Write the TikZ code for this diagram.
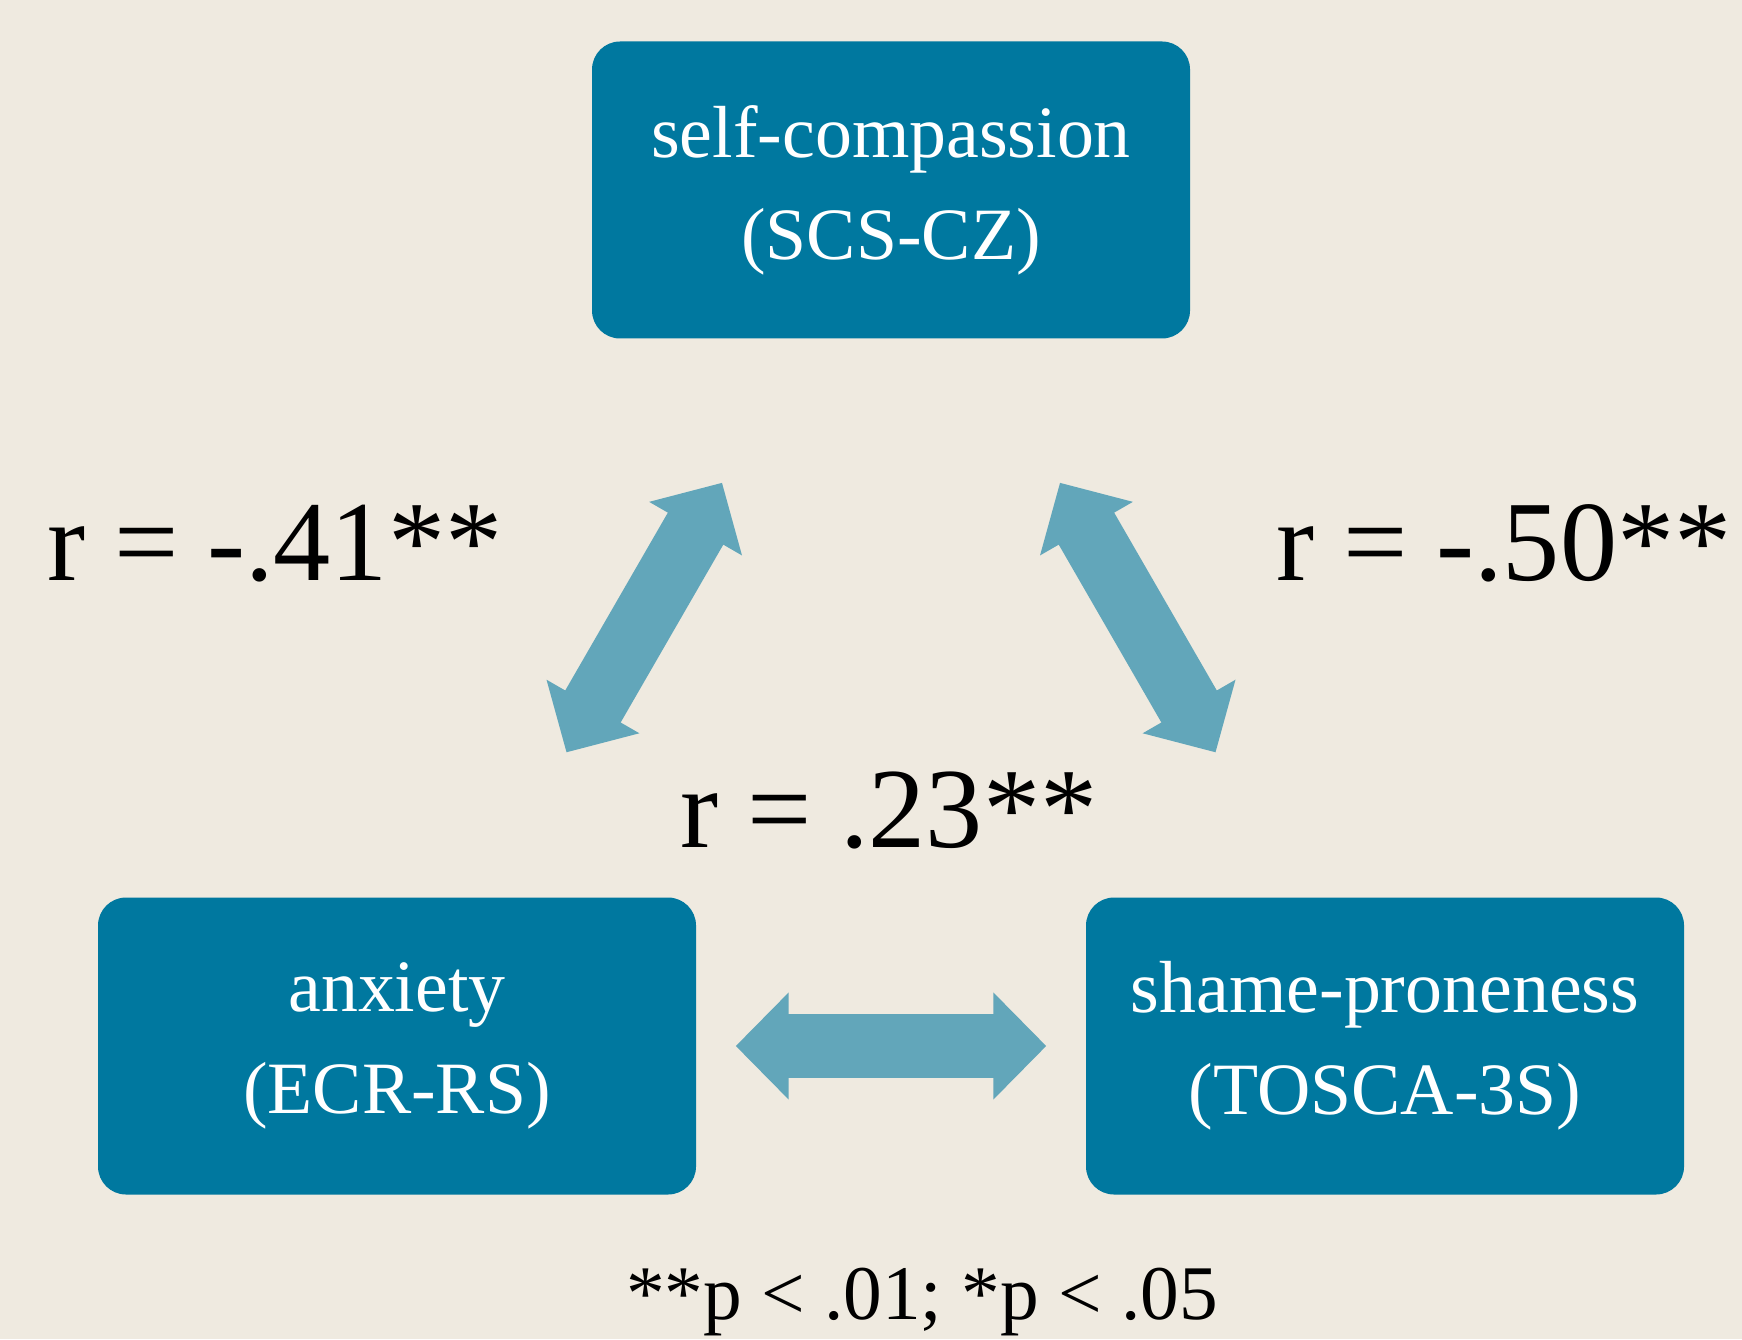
\documentclass[tikz,border=0pt]{standalone}
\usepackage{fontspec}
\setmainfont{Liberation Serif}
\usepackage{xcolor}
\usepackage{tikz}
\usetikzlibrary{arrows.meta,positioning,calc}

\definecolor{paper}{HTML}{EFEAE0}
\definecolor{boxblue}{HTML}{00789F}
\definecolor{arrblue}{HTML}{62A6BA}

\begin{document}
\begin{tikzpicture}[
  scale box/.style={fill=boxblue, rounded corners=0.28cm, minimum width=5.98cm,
              minimum height=2.97cm, align=center, text=white,
              font=\fontsize{21}{29}\selectfont},
  corr/.style={anchor=base, font=\fontsize{32.5}{36}\selectfont},
  bigarr/.style={arrblue, line width=0.64cm,
              {Triangle[length=0.53cm,width=1.04cm]}-{Triangle[length=0.53cm,width=1.04cm]}},
]
\fill[paper] (0,0) rectangle (17.42,13.39);
\useasboundingbox (0,0) rectangle (17.42,13.39);

\node[scale box] (self) at (8.91,11.49) {self-compassion\\(SCS-CZ)};
\node[scale box] (anx) at (3.97,2.93) {anxiety\\(ECR-RS)};
\node[scale box] (shame) at (13.85,2.93) {shame-proneness\\(TOSCA-3S)};

% correlations
\draw[bigarr] ($(anx)!0.343!(self)$) -- ($(anx)!0.658!(self)$);
\draw[bigarr] ($(shame)!0.343!(self)$) -- ($(shame)!0.658!(self)$);
\draw[bigarr, shorten <=0.39cm, shorten >=0.39cm] (anx) -- (shame);

\node[corr] (r41) at (2.75,7.59) {r = -.41**};
\node[corr] (r50) at (15.04,7.59) {r = -.50**};
\node[corr] (r23) at (8.89,4.92) {r = .23**};

\node[anchor=base, font=\fontsize{22}{26}\selectfont] (note) at (9.22,0.2)
     {**p < .01; *p < .05};
\end{tikzpicture}
\end{document}
